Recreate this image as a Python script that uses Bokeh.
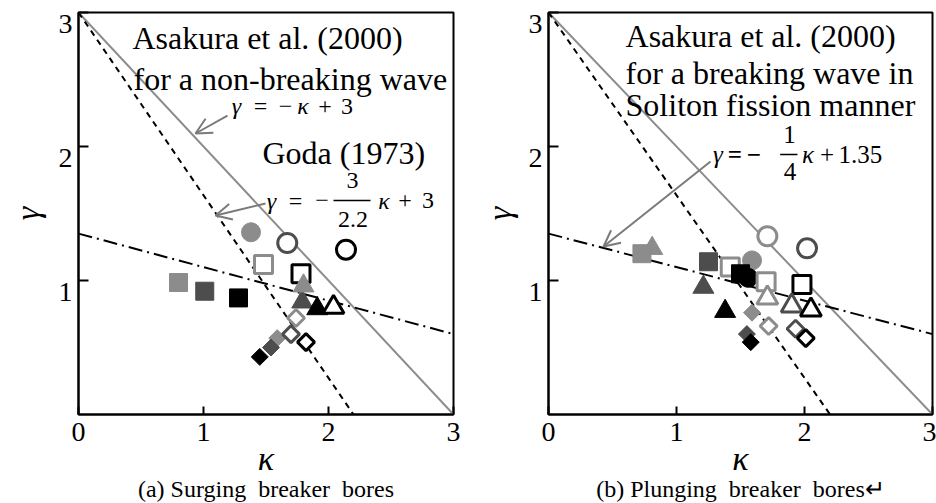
import math
from bokeh.plotting import figure
from bokeh.models import (Range1d, FixedTicker, Label, Arrow, OpenHead, ColumnDataSource,
                          LinearAxis, Title)
from bokeh.layouts import row
from bokeh.embed import file_html
from bokeh.resources import INLINE

# ---------------- data ----------------
x_ticks = [0, 1, 2, 3]
y_ticks = [1, 2, 3]

# reference lines (end points)
asakura_nb_kappa = [0, 3]
asakura_nb_gamma = [3, 0]
goda_kappa = [0, 2.2]
goda_gamma = [3, 0]
soliton_kappa = [0, 3]
soliton_gamma = [1.35, 0.6]

# (a) Surging breaker bores
a_shape = ["circle", "circle", "circle", "square", "square", "square", "square", "square",
           "triangle", "triangle", "triangle", "triangle",
           "diamond", "diamond", "diamond", "diamond", "diamond", "diamond"]
a_shade = ["light", "dark", "black", "light", "dark", "black", "light", "black",
           "dark", "light", "black", "black",
           "light", "dark", "black", "light", "dark", "black"]
a_filled = [True, False, False, True, True, True, False, False,
            True, True, True, False,
            True, True, True, False, False, False]
a_kappa = [1.38, 1.67, 2.14, 0.80, 1.01, 1.28, 1.48, 1.78,
           1.79, 1.80, 1.91, 2.04,
           1.59, 1.54, 1.45, 1.74, 1.70, 1.82]
a_gamma = [1.36, 1.28, 1.23, 0.985, 0.92, 0.87, 1.12, 1.05,
           0.84, 0.96, 0.79, 0.80,
           0.57, 0.50, 0.43, 0.72, 0.60, 0.54]

# (b) Plunging breaker bores
b_shape = ["circle", "circle", "triangle", "square", "square", "square", "circle", "square", "circle",
           "square", "square", "triangle", "triangle", "triangle", "triangle", "triangle",
           "diamond", "diamond", "diamond", "diamond", "diamond", "diamond"]
b_shade = ["light", "dark", "light", "light", "dark", "light", "light", "black", "black",
           "light", "black", "dark", "black", "light", "dark", "black",
           "light", "dark", "black", "light", "dark", "black"]
b_filled = [False, False, True, True, True, False, True, True, True,
            False, False, True, True, False, False, False,
            True, True, True, False, False, False]
b_kappa = [1.71, 2.02, 0.81, 0.73, 1.25, 1.42, 1.59, 1.50, 1.56,
           1.70, 1.98, 1.21, 1.38, 1.71, 1.90, 2.05,
           1.59, 1.55, 1.58, 1.72, 1.93, 2.01]
b_gamma = [1.33, 1.24, 1.24, 1.20, 1.14, 1.10, 1.15, 1.05, 1.02,
           0.99, 0.97, 0.95, 0.77, 0.87, 0.81, 0.78,
           0.76, 0.60, 0.54, 0.66, 0.64, 0.57]

# ---------------- styling ----------------
SERIF = "Liberation Serif"
SHADE = {"light": "#8c8c8c", "dark": "#4d4d4d", "black": "#000000"}
MARKER = {"circle": "circle", "square": "square", "triangle": "triangle", "diamond": "square"}
SIZE = {"circle": 19, "square": 18, "triangle": 21, "diamond": 12}
ANGLE = {"circle": 0.0, "square": 0.0, "triangle": 0.0, "diamond": math.pi / 4}
LINE_GRAY = "#8c8c8c"
ARROW_GRAY = "#7a7a7a"
HEIGHT = 503
FRAME_TOP = 12
FRAME_H = 402
Y_LABEL_DROP = 11 / 134.0   # tick labels sit slightly below their ticks in the original
NB = "\u00a0"


def marker_source(shape, shade, filled, kappa, gamma):
    return ColumnDataSource(dict(
        kappa=kappa, gamma=gamma,
        marker=[MARKER[s] for s in shape],
        size=[SIZE[s] for s in shape],
        angle=[ANGLE[s] for s in shape],
        line_color=[SHADE[c] for c in shade],
        fill_color=[SHADE[c] if f else "white" for c, f in zip(shade, filled)],
        line_width=[1 if f else 3 for f in filled],
    ))


def make_panel(width, border_left, border_right, caption, caption_offset, ylabel_standoff):
    p = figure(width=width, height=HEIGHT, output_backend="svg", toolbar_location=None,
               x_range=Range1d(0, 3), y_range=Range1d(0, 3),
               min_border_left=border_left, min_border_right=border_right,
               min_border_top=FRAME_TOP, min_border_bottom=HEIGHT - FRAME_TOP - FRAME_H)
    p.grid.grid_line_color = None
    p.outline_line_color = "black"
    p.outline_line_width = 2
    p.outline_line_alpha = 1
    p.xaxis.ticker = FixedTicker(ticks=x_ticks)
    p.yaxis.ticker = FixedTicker(ticks=y_ticks)
    p.yaxis.major_label_overrides = {t: "" for t in y_ticks}
    p.yaxis.major_label_standoff = 0
    # label-only axis for gamma, labels dropped a little below the ticks
    lab_pos = [t - Y_LABEL_DROP for t in y_ticks]
    ylab = LinearAxis(ticker=FixedTicker(ticks=lab_pos),
                      major_label_overrides={lp: str(t) for lp, t in zip(lab_pos, y_ticks)},
                      axis_line_color=None, major_tick_line_color=None,
                      minor_tick_line_color=None, axis_label="γ")
    p.add_layout(ylab, "left")
    for ax in (p.xaxis[0], p.yaxis[0], ylab):
        ax.axis_line_width = 2
        ax.major_tick_line_width = 2
        ax.major_tick_out = 0
        ax.minor_tick_line_color = None
        ax.major_label_text_font = SERIF
        ax.major_label_text_font_size = "28px"
        ax.major_label_text_color = "black"
        ax.axis_label_text_font = SERIF
        ax.axis_label_text_font_style = "italic"
        ax.axis_label_text_font_size = "34px"
        ax.axis_label_text_color = "black"
    p.xaxis.axis_line_color = "black"
    p.yaxis[0].axis_line_color = "black"
    p.xaxis.major_tick_in = 8
    p.yaxis[0].major_tick_in = 10
    ylab.major_tick_in = 0
    p.xaxis.major_label_standoff = 8
    ylab.major_label_standoff = 6
    ylab.axis_label_standoff = ylabel_standoff
    p.xaxis.axis_label = "κ"
    p.xaxis.axis_label_standoff = -4
    p.add_layout(Title(text=caption, align="center", text_font=SERIF, text_font_size="24px",
                       text_font_style="normal", text_color="black", standoff=-12,
                       offset=caption_offset), "below")
    p.line(asakura_nb_kappa, asakura_nb_gamma, line_color=LINE_GRAY, line_width=2)
    p.line(goda_kappa, goda_gamma, line_color="black", line_width=2, line_dash="6 5")
    p.line(soliton_kappa, soliton_gamma, line_color="black", line_width=2, line_dash="14 5 2 5")
    return p


def txt(p, x, y, s, size="32px", style="normal", align="left", color="black"):
    p.add_layout(Label(x=x, y=y, text=s, text_font=SERIF, text_font_size=size,
                       text_font_style=style, text_align=align, text_baseline="middle",
                       text_color=color))


def arrow(p, x0, y0, x1, y1):
    p.add_layout(Arrow(end=OpenHead(size=16, line_color=ARROW_GRAY, line_width=2),
                       x_start=x0, y_start=y0, x_end=x1, y_end=y1,
                       line_color=ARROW_GRAY, line_width=2))


def bar(p, x0, x1, y):
    p.add_layout(Arrow(end=None, x_start=x0, y_start=y, x_end=x1, y_end=y,
                       line_color="black", line_width=1.5))


def scatter(p, src):
    p.scatter("kappa", "gamma", source=src, marker="marker", size="size", angle="angle",
              line_color="line_color", fill_color="fill_color", line_width="line_width")


# ---------------- panel (a) ----------------
pa = make_panel(472, 78, 19, "(a) Surging" + NB * 2 + "breaker" + NB * 2 + "bores", -6, 10)
scatter(pa, marker_source(a_shape, a_shade, a_filled, a_kappa, a_gamma))
txt(pa, 0.432, 2.813, "Asakura et al. (2000)")
txt(pa, 0.44, 2.507, "for a non-breaking wave")
txt(pa, 1.472, 1.955, "Goda (1973)")
# γ = −κ + 3
fy = 2.299
txt(pa, 1.264, fy, "γ", "24px", "italic", "center")
txt(pa, 1.456, fy, "=", "24px", "normal", "center")
txt(pa, 1.656, fy, "−", "24px", "normal", "center")
txt(pa, 1.796, fy, "κ", "24px", "italic", "center")
txt(pa, 1.972, fy, "+", "24px", "normal", "center")
txt(pa, 2.148, fy, "3", "24px", "normal", "center")
arrow(pa, 1.192, 2.231, 0.936, 2.097)
# γ = −3/2.2 κ + 3
gy = 1.597
txt(pa, 1.544, gy, "γ", "24px", "italic", "center")
txt(pa, 1.736, gy, "=", "24px", "normal", "center")
txt(pa, 1.948, gy, "−", "24px", "normal", "center")
txt(pa, 2.192, 1.746, "3", "24px", "normal", "center")
bar(pa, 2.04, 2.336, gy)
txt(pa, 2.196, 1.455, "2.2", "24px", "normal", "center")
txt(pa, 2.444, gy, "κ", "24px", "italic", "center")
txt(pa, 2.612, gy, "+", "24px", "normal", "center")
txt(pa, 2.796, gy, "3", "24px", "normal", "center")
arrow(pa, 1.496, 1.575, 1.096, 1.485)

# ---------------- panel (b) ----------------
pb = make_panel(464, 76, 4, "(b) Plunging" + NB * 2 + "breaker" + NB * 2 + "bores↵", -7, 8)
scatter(pb, marker_source(b_shape, b_shade, b_filled, b_kappa, b_gamma))
txt(pb, 0.602, 2.821, "Asakura et al. (2000)")
txt(pb, 0.602, 2.545, "for a breaking wave in")
txt(pb, 0.602, 2.313, "Soliton fission manner")
hy = 1.94
txt(pb, 1.324, hy, "γ", "25px", "italic", "center")
txt(pb, 1.457, hy, "=", "25px", "bold", "center")
txt(pb, 1.605, hy, "−", "25px", "bold", "center")
txt(pb, 1.883, 2.09, "1", "25px", "normal", "center")
bar(pb, 1.81, 1.945, hy)
txt(pb, 1.887, 1.815, "4", "25px", "normal", "center")
txt(pb, 2.027, hy, "κ", "25px", "italic", "center")
txt(pb, 2.176, hy, "+", "25px", "normal", "center")
txt(pb, 2.266, hy, "1.35", "25px", "normal", "left")
arrow(pb, 1.266, 1.888, 0.43, 1.254)

layout = row(pa, pb)
open("out.html", "w").write(file_html(layout, INLINE))
